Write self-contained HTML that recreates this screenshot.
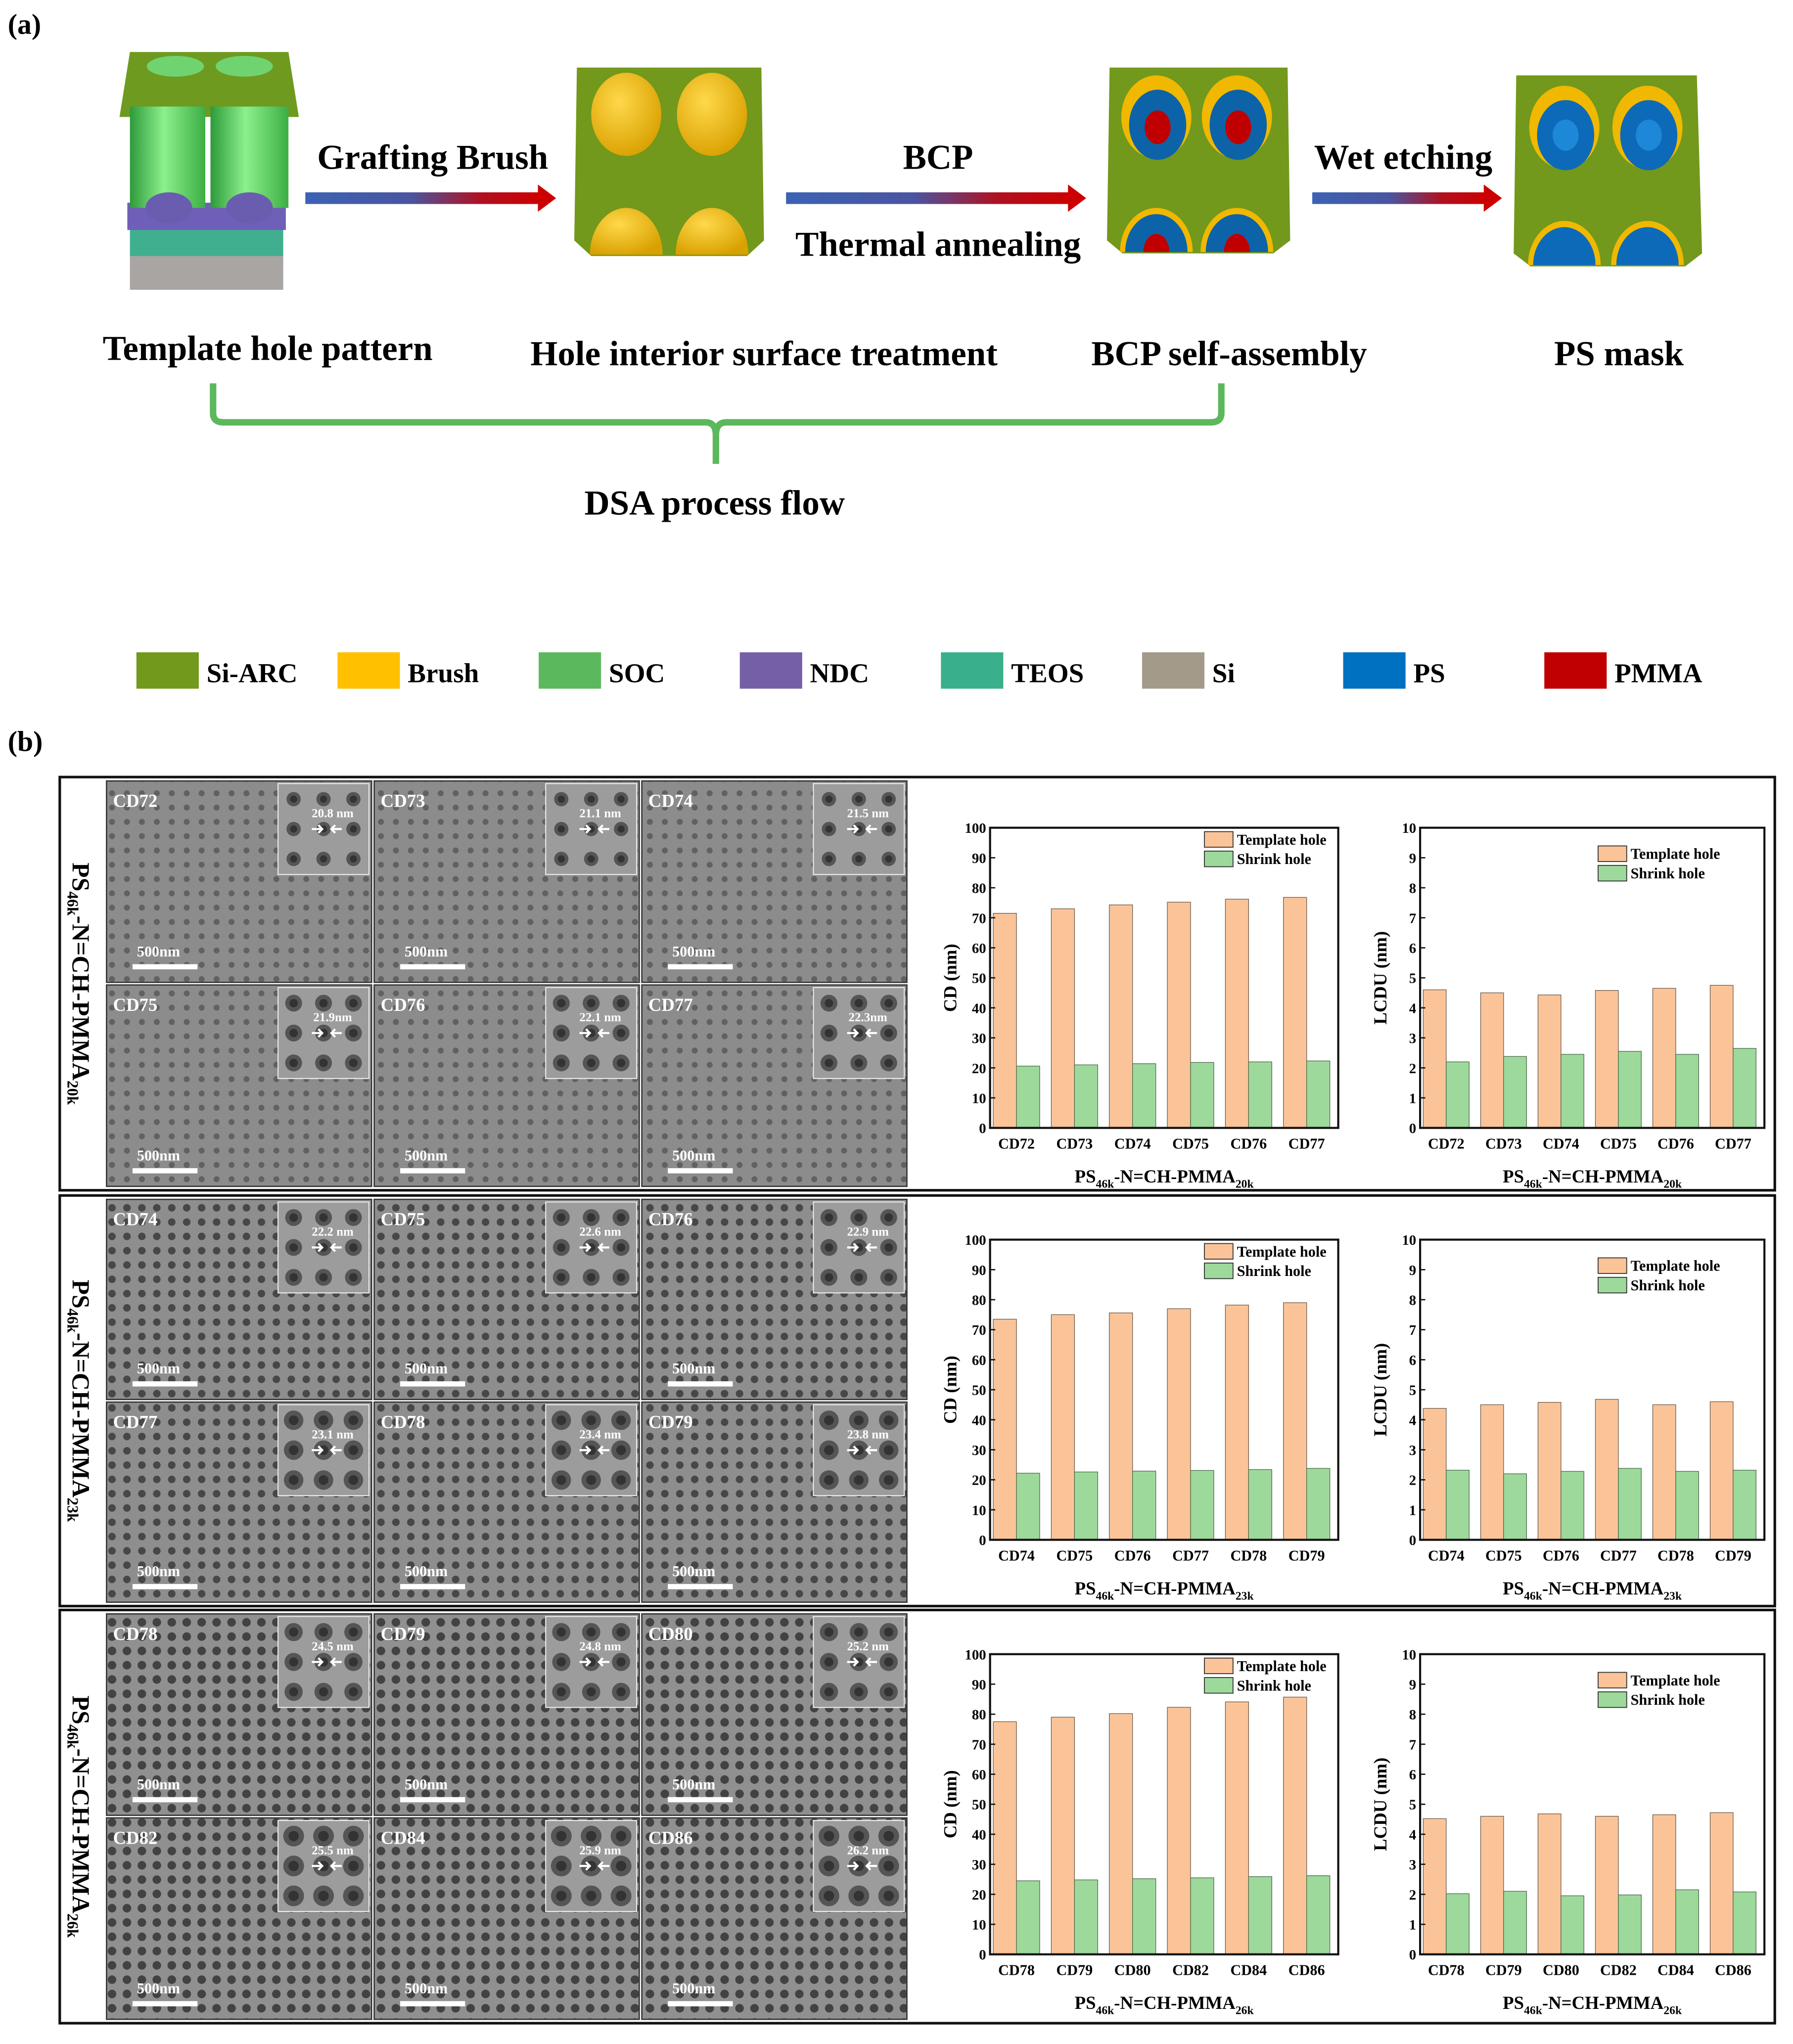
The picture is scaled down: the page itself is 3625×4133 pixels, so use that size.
<!DOCTYPE html>
<html><head><meta charset="utf-8"><style>
html,body{margin:0;padding:0;background:#fff}
svg{display:block}
text{font-family:"Liberation Serif",serif;font-weight:bold}
</style></head><body>
<svg id="fig" xmlns="http://www.w3.org/2000/svg" width="3625" height="4133" viewBox="0 0 1380 1573" preserveAspectRatio="none">
<defs>
<linearGradient id="arr" x1="0" x2="1"><stop offset="0" stop-color="#3c62b4"/><stop offset="0.45" stop-color="#4a55a0"/><stop offset="0.75" stop-color="#b01020"/><stop offset="1" stop-color="#cc0000"/></linearGradient>
<linearGradient id="cyl" x1="0" x2="1"><stop offset="0" stop-color="#2e9a3a"/><stop offset="0.45" stop-color="#8cf08c"/><stop offset="1" stop-color="#3cae44"/></linearGradient>
<radialGradient id="yel" cx="0.4" cy="0.35" r="0.7"><stop offset="0" stop-color="#ffd84a"/><stop offset="1" stop-color="#d8a000"/></radialGradient>
<pattern id="p1" width="11.5" height="11" patternUnits="userSpaceOnUse"><rect width="11.5" height="11" fill="#8c8c8c"/><circle cx="5.7" cy="5.5" r="2.3" fill="#616161"/></pattern>
<pattern id="p2" width="11.5" height="11" patternUnits="userSpaceOnUse"><rect width="11.5" height="11" fill="#8e8e8e"/><circle cx="5.7" cy="5.5" r="2.9" fill="#474747"/></pattern>
<pattern id="p3" width="11.5" height="11" patternUnits="userSpaceOnUse"><rect width="11.5" height="11" fill="#909090"/><circle cx="5.7" cy="5.5" r="3.3" fill="#424242"/></pattern>
</defs>

<text x="6" y="26" font-size="22">(a)</text>

<g>
<rect x="100" y="196" width="118" height="27" fill="#a8a5a2"/>
<rect x="100" y="176" width="118" height="21" fill="#3faf8f"/>
<rect x="98" y="156" width="122" height="21" fill="#6f5fb8"/>
<polygon points="100,40 222,40 230,90 92,90" fill="#6e9a20"/>
<ellipse cx="135" cy="51" rx="22" ry="8" fill="#6fd46f"/>
<ellipse cx="188" cy="51" rx="22" ry="8" fill="#6fd46f"/>
<rect x="100" y="82" width="58" height="78" fill="url(#cyl)"/>
<rect x="162" y="82" width="60" height="78" fill="url(#cyl)"/>
<ellipse cx="130" cy="160" rx="18" ry="12" fill="#6a5db0"/>
<ellipse cx="192" cy="160" rx="18" ry="12" fill="#6a5db0"/>
</g>

<g><rect x="235" y="148" width="180" height="9" fill="url(#arr)"/><polygon points="414,142 428,152.5 414,163" fill="#cc0000"/></g>
<text x="333" y="130" font-size="27" text-anchor="middle">Grafting Brush</text>

<g>
<polygon points="444,52 586,52 588,185 575,197 455,197 442,185" fill="#72981c"/>
<ellipse cx="482" cy="88" rx="27" ry="32" fill="url(#yel)"/><ellipse cx="548" cy="88" rx="27" ry="32" fill="url(#yel)"/>
<path d="M454,196 A28,36 0 0 1 510,196 Z" fill="url(#yel)"/><path d="M520,196 A28,36 0 0 1 576,196 Z" fill="url(#yel)"/>
</g>

<g><rect x="605" y="148" width="218" height="9" fill="url(#arr)"/><polygon points="822,142 836,152.5 822,163" fill="#cc0000"/></g>
<text x="722" y="130" font-size="27" text-anchor="middle">BCP</text>
<text x="722" y="197" font-size="27" text-anchor="middle">Thermal annealing</text>

<g>
<polygon points="854,52 991,52 993,185 980,195 864,195 852,185" fill="#72981c"/>
<g fill="#f0b800"><ellipse cx="890" cy="90" rx="27" ry="32"/><ellipse cx="952" cy="90" rx="27" ry="32"/></g>
<g fill="#0d63a8"><ellipse cx="891" cy="96" rx="22" ry="27"/><ellipse cx="953" cy="96" rx="22" ry="27"/></g>
<g fill="#c00000"><ellipse cx="891" cy="98" rx="10" ry="13"/><ellipse cx="953" cy="98" rx="10" ry="13"/></g>
<path d="M862,194 A28,34 0 0 1 918,194 Z" fill="#f0b800"/><path d="M924,194 A28,34 0 0 1 980,194 Z" fill="#f0b800"/>
<path d="M866,194 A23,28 0 0 1 914,194 Z" fill="#0d63a8"/><path d="M928,194 A23,28 0 0 1 976,194 Z" fill="#0d63a8"/>
<path d="M880,194 A10,14 0 0 1 900,194 Z" fill="#c00000"/><path d="M942,194 A10,14 0 0 1 962,194 Z" fill="#c00000"/>
</g>

<g><rect x="1010" y="148" width="133" height="9" fill="url(#arr)"/><polygon points="1142,142 1156,152.5 1142,163" fill="#cc0000"/></g>
<text x="1080" y="130" font-size="27" text-anchor="middle">Wet etching</text>

<g>
<polygon points="1167,58 1306,58 1310,195 1297,205 1178,205 1165,195" fill="#72981c"/>
<g fill="#f0b800"><ellipse cx="1204" cy="98" rx="27" ry="32"/><ellipse cx="1268" cy="98" rx="27" ry="32"/></g>
<g fill="#0d6ab8"><ellipse cx="1205" cy="104" rx="22" ry="27"/><ellipse cx="1269" cy="104" rx="22" ry="27"/></g>
<g fill="#1d88d8"><ellipse cx="1205" cy="104" rx="10" ry="12"/><ellipse cx="1269" cy="104" rx="10" ry="12"/></g>
<path d="M1176,204 A28,34 0 0 1 1232,204 Z" fill="#f0b800"/><path d="M1240,204 A28,34 0 0 1 1296,204 Z" fill="#f0b800"/>
<path d="M1180,204 A23,28 0 0 1 1228,204 Z" fill="#0d6ab8"/><path d="M1244,204 A23,28 0 0 1 1292,204 Z" fill="#0d6ab8"/>
</g>

<text x="206" y="277" font-size="27" text-anchor="middle">Template hole pattern</text>
<text x="588" y="281" font-size="27" text-anchor="middle">Hole interior surface treatment</text>
<text x="946" y="281" font-size="27" text-anchor="middle">BCP self-assembly</text>
<text x="1246" y="281" font-size="27" text-anchor="middle">PS mask</text>

<path d="M164,295 V318 Q164,325 172,325 H543 Q551,325 551,335 V357 M551,335 Q551,325 559,325 H932 Q940,325 940,318 V295" fill="none" stroke="#5cb85c" stroke-width="5"/>
<text x="550" y="396" font-size="27" text-anchor="middle">DSA process flow</text>

<g id="legendA"></g>

<text x="6" y="578" font-size="22">(b)</text>
<g id="partB"></g>
</svg>
<script>
const NS='http://www.w3.org/2000/svg';
function mk(tag,attrs,parent,txt){const e=document.createElementNS(NS,tag);for(const k in attrs)e.setAttribute(k,attrs[k]);if(txt!==undefined)e.textContent=txt;parent.appendChild(e);return e;}

const matNames=['Si-ARC','Brush','SOC','NDC','TEOS','Si','PS','PMMA'];
const matColors=['#72981c','#ffc000','#5cb85c','#7560a8','#3aaf8c','#a39a8a','#0070c0','#c00000'];
const lg=document.getElementById('legendA');
matNames.forEach((n,i)=>{
  const x=105+i*154.8;
  const r=mk('rect',{x:x,y:502,width:48,height:28,fill:matColors[i]},lg);
  
  
  const t=mk('text',{x:x+54,y:525,'font-size':21},lg,n);
  
  
});

const rowLabels=['20k','23k','26k'];
const cats1=['CD72','CD73','CD74','CD75','CD76','CD77'];
const cats2=['CD74','CD75','CD76','CD77','CD78','CD79'];
const cats3=['CD78','CD79','CD80','CD82','CD84','CD86'];
const cdTemplate1=[71.5,73,74.3,75.2,76.2,76.8];
const cdShrink1=[20.6,21,21.4,21.8,22,22.3];
const cdTemplate2=[73.5,75,75.6,77,78.2,79];
const cdShrink2=[22.2,22.6,22.9,23.1,23.4,23.8];
const cdTemplate3=[77.5,79,80.2,82.3,84.1,85.7];
const cdShrink3=[24.5,24.8,25.2,25.5,25.9,26.2];
const lcduTemplate1=[4.6,4.5,4.43,4.58,4.65,4.75];
const lcduShrink1=[2.2,2.38,2.45,2.55,2.45,2.65];
const lcduTemplate2=[4.38,4.5,4.58,4.68,4.5,4.6];
const lcduShrink2=[2.32,2.2,2.28,2.38,2.28,2.32];
const lcduTemplate3=[4.52,4.6,4.68,4.6,4.65,4.72];
const lcduShrink3=[2.02,2.1,1.95,1.98,2.15,2.08];
const cdTicks=[0,10,20,30,40,50,60,70,80,90,100];
const lcduTicks=[0,1,2,3,4,5,6,7,8,9,10];
const semDiam1=['20.8 nm','21.1 nm','21.5 nm','21.9nm','22.1 nm','22.3nm'];
const semDiam2=['22.2 nm','22.6 nm','22.9 nm','23.1 nm','23.4 nm','23.8 nm'];
const semDiam3=['24.5 nm','24.8 nm','25.2 nm','25.5 nm','25.9 nm','26.2 nm'];

const rows=[
 {cats:cats1,cdT:cdTemplate1,cdS:cdShrink1,lT:lcduTemplate1,lS:lcduShrink1,diam:semDiam1,y0:598,y1:916},
 {cats:cats2,cdT:cdTemplate2,cdS:cdShrink2,lT:lcduTemplate2,lS:lcduShrink2,diam:semDiam2,y0:920,y1:1236},
 {cats:cats3,cdT:cdTemplate3,cdS:cdShrink3,lT:lcduTemplate3,lS:lcduShrink3,diam:semDiam3,y0:1239,y1:1557}
];
const B=document.getElementById('partB');

function drawChart(g,x0,x1,yT,yB,ticks,maxV,cats,tv,sv,title,legX,legY,rowLab){
  const ys=v=>yB-(v/maxV)*(yB-yT);
  const pitch=(x1-x0)/cats.length;
  const bw=pitch*0.4;
  cats.forEach((c,i)=>{
    const cx=x0+pitch*(i+0.5)-2;
    const r1=mk('rect',{x:cx-bw,y:ys(tv[i]),width:bw,height:yB-ys(tv[i]),fill:'#fbc498',stroke:'#6b5a4a','stroke-width':0.5},g);
    
    
    const r2=mk('rect',{x:cx,y:ys(sv[i]),width:bw,height:yB-ys(sv[i]),fill:'#9ed99c',stroke:'#4a6a4a','stroke-width':0.5},g);
    
    
    const t=mk('text',{x:cx,y:yB+16,'font-size':11.5,'text-anchor':'middle'},g,c);
    
    
  });
  const fr=mk('rect',{x:x0,y:yT,width:x1-x0,height:yB-yT,fill:'none',stroke:'#111','stroke-width':1.6},g);
  
  
  ticks.forEach(v=>{
    const y=ys(v);
    mk('line',{x1:x0,x2:x0+4,y1:y,y2:y,stroke:'#111','stroke-width':1},g);
    const t=mk('text',{x:x0-3,y:y+4,'font-size':11,'text-anchor':'end'},g,String(v));
    
    
  });
  const yt=mk('text',{x:0,y:0,'font-size':14,'text-anchor':'middle',transform:`translate(${x0-26},${(yT+yB)/2}) rotate(-90)`},g,title);
  
  
  const xt=mk('text',{x:(x0+x1)/2,y:yB+42,'font-size':14,'text-anchor':'middle'},g);
  
  
  xt.innerHTML='PS<tspan font-size="9" dy="4">46k</tspan><tspan dy="-4">-N=CH-PMMA</tspan><tspan font-size="9" dy="4">'+rowLab+'</tspan>';
  const l1=mk('rect',{x:legX,y:legY,width:22,height:12,fill:'#fbc498',stroke:'#333','stroke-width':0.7},g);
  
  
  const lt1=mk('text',{x:legX+25,y:legY+10,'font-size':11.5},g,'Template hole');
  
  
  const l2=mk('rect',{x:legX,y:legY+15,width:22,height:12,fill:'#9ed99c',stroke:'#333','stroke-width':0.7},g);
  
  
  const lt2=mk('text',{x:legX+25,y:legY+25,'font-size':11.5},g,'Shrink hole');
  
  
}

rows.forEach((r,ri)=>{
  const g=mk('g',{},B);
  
  
  const box=mk('rect',{x:46,y:r.y0,width:1320,height:r.y1-r.y0,fill:'none',stroke:'#111','stroke-width':2},g);
  
  
  const cy=(r.y0+r.y1)/2;
  const rl=mk('text',{x:0,y:0,'font-size':19,'text-anchor':'middle',transform:`translate(56,${cy}) rotate(90)`},g);
  
  
  rl.innerHTML='PS<tspan font-size="12" dy="4">46k</tspan><tspan dy="-4">-N=CH-PMMA</tspan><tspan font-size="12" dy="4">'+rowLabels[ri]+'</tspan>';
  const imgH=(r.y1-r.y0-6)/2;
  r.cats.forEach((c,i)=>{
    const col=i%3,row=Math.floor(i/3);
    const x=82+col*206, y=r.y0+3+row*(imgH+1), w=204, h=imgH-1;
    const sg=mk('g',{},g);
    
    
    mk('rect',{x:x,y:y,width:w,height:h,fill:'url(#p'+(ri+1)+')',stroke:'#333','stroke-width':1},sg);
    const ix=x+w-72, iy=y+2;
    mk('rect',{x:ix,y:iy,width:70,height:70,fill:'#9c9c9c',stroke:'#eee','stroke-width':0.8},sg);
    const rr=[5.5,6.5,7][ri]+(i>=3?1:0);
    for(let a=0;a<3;a++)for(let b=0;b<3;b++){
      mk('circle',{cx:ix+12+b*23,cy:iy+12+a*23,r:rr,fill:'#555'},sg);
      mk('circle',{cx:ix+12+b*23,cy:iy+12+a*23,r:rr*0.5,fill:'#333'},sg);
    }
    const dt=mk('text',{x:ix+42,y:iy+26,'font-size':9.5,fill:'#fff','text-anchor':'middle'},sg,r.diam[i]);
    
    
    mk('path',{d:`M${ix+26},${iy+35} h7 M${ix+31},${iy+32} l3,3 l-3,3 M${ix+49},${iy+35} h-7 M${ix+44},${iy+32} l-3,3 l3,3`,stroke:'#fff','stroke-width':1.6,fill:'none'},sg);
    const lt=mk('text',{x:x+5,y:y+20,'font-size':14,fill:'#fff'},sg,c);
    
    
    const st=mk('text',{x:x+40,y:y+h-20,'font-size':11.5,fill:'#fff','text-anchor':'middle'},sg,'500nm');
    
    
    const sb=mk('rect',{x:x+20,y:y+h-14,width:50,height:4,fill:'#fff'},sg);
    
    
  });
  const yT=[637,954,1273][ri], yB=yT+231;
  const cg=mk('g',{},g);
  
  
  drawChart(cg,762,1030,yT,yB,cdTicks,100,r.cats,r.cdT,r.cdS,'CD (nm)',927,yT+3,rowLabels[ri]);
  const lg2=mk('g',{},g);
  
  
  drawChart(lg2,1093,1358,yT,yB,lcduTicks,10,r.cats,r.lT,r.lS,'LCDU (nm)',1230,yT+14,rowLabels[ri]);
});
</script>
</body></html>
